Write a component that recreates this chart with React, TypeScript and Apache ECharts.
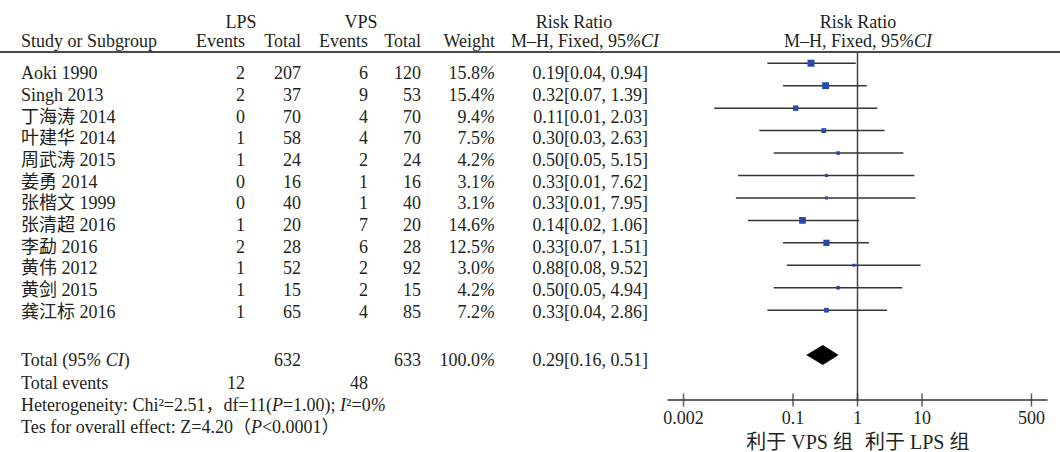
import React, { useEffect, useRef } from "react";
import * as echarts from "echarts";

// ---- data ----
const studies = ["Aoki 1990", "Singh 2013", "丁海涛 2014", "叶建华 2014", "周武涛 2015", "姜勇 2014", "张楷文 1999", "张清超 2016", "李勐 2016", "黄伟 2012", "黄剑 2015", "龚江标 2016"];
const lpsEvents = [2, 2, 0, 1, 1, 0, 0, 1, 2, 1, 1, 1];
const lpsTotal = [207, 37, 70, 58, 24, 16, 40, 20, 28, 52, 15, 65];
const vpsEvents = [6, 9, 4, 4, 2, 1, 1, 7, 6, 2, 2, 4];
const vpsTotal = [120, 53, 70, 70, 24, 16, 40, 20, 28, 92, 15, 85];
const weights = [15.8, 15.4, 9.4, 7.5, 4.2, 3.1, 3.1, 14.6, 12.5, 3.0, 4.2, 7.2];
const riskRatio = [0.19, 0.32, 0.11, 0.3, 0.5, 0.33, 0.33, 0.14, 0.33, 0.88, 0.5, 0.33];
const ciLow = [0.04, 0.07, 0.006, 0.03, 0.05, 0.014, 0.013, 0.02, 0.07, 0.08, 0.05, 0.04];
const ciHigh = [0.94, 1.39, 2.03, 2.63, 5.15, 7.62, 7.95, 1.06, 1.51, 9.52, 4.94, 2.86];
const totalLpsN = 632;
const totalVpsN = 633;
const totalLpsEvents = 12;
const totalVpsEvents = 48;
const totalWeight = 100.0;
const totalRR = 0.29;
const totalLow = 0.16;
const totalHigh = 0.51;
const tickValues = [0.002, 0.1, 1, 10, 500];
const tickLabels = ["0.002", "0.1", "1", "10", "500"];

const FONT = "'Liberation Serif','Times New Roman','Noto Sans CJK SC',serif";
const INK = "#231f20";

const ciText = (r: number, lo: number, hi: number) =>
  `${r.toFixed(2)}[${lo.toFixed(2)}, ${hi.toFixed(2)}]`;
const pct = (w: number) => `${w.toFixed(1)}{i|%}`;

const richStyles = {
  i: { fontStyle: "italic", fontSize: 18, fontFamily: FONT, fill: INK, color: INK },
};

function txt(text: string, x: number, y: number, align: string = "left", extra: any = {}) {
  return {
    type: "text",
    x,
    y,
    silent: true,
    style: {
      text,
      fill: INK,
      fontSize: 18,
      fontFamily: FONT,
      align,
      verticalAlign: "middle",
      textAlign: align,
      textVerticalAlign: "middle",
      rich: richStyles,
      ...extra,
    },
  };
}

export default function App() {
  const ref = useRef<HTMLDivElement>(null);
  useEffect(() => {
    if (!ref.current) return;
    const chart = echarts.init(ref.current, undefined, { renderer: "svg" });

    const rowY = (i: number) => 73.3 + i * 21.67;
    const graphics: any[] = [];
    // header
    graphics.push(txt("LPS", 241, 22, "center"));
    graphics.push(txt("VPS", 361, 22, "center"));
    graphics.push(txt("Risk Ratio", 574, 22, "center"));
    graphics.push(txt("Study or Subgroup", 21, 41));
    graphics.push(txt("Events", 245, 41, "right"));
    graphics.push(txt("Total", 301, 41, "right"));
    graphics.push(txt("Events", 368, 41, "right"));
    graphics.push(txt("Total", 421, 41, "right"));
    graphics.push(txt("Weight", 495, 41, "right"));
    graphics.push(txt("M–H, Fixed, 95{i|%CI}", 511, 41, "left"));
    graphics.push(txt("Risk Ratio", 858, 22, "center"));
    graphics.push(txt("M–H, Fixed, 95{i|%CI}", 858, 41, "center"));
    graphics.push({
      type: "line",
      silent: true,
      shape: { x1: 0, y1: 52, x2: 1060, y2: 52 },
      style: { stroke: "#4a4a4a", lineWidth: 2 },
    });
    // rows
    studies.forEach((s, i) => {
      const y = rowY(i);
      graphics.push(txt(s, 21, y));
      graphics.push(txt(String(lpsEvents[i]), 245, y, "right"));
      graphics.push(txt(String(lpsTotal[i]), 301, y, "right"));
      graphics.push(txt(String(vpsEvents[i]), 368, y, "right"));
      graphics.push(txt(String(vpsTotal[i]), 421, y, "right"));
      graphics.push(txt(pct(weights[i]), 495, y, "right"));
      graphics.push(txt(ciText(riskRatio[i], ciLow[i], ciHigh[i]), 648, y, "right"));
    });
    // totals
    graphics.push(txt("Total (95{i|% CI})", 21, 360));
    graphics.push(txt(String(totalLpsN), 301, 360, "right"));
    graphics.push(txt(String(totalVpsN), 421, 360, "right"));
    graphics.push(txt(pct(totalWeight), 495, 360, "right"));
    graphics.push(txt(ciText(totalRR, totalLow, totalHigh), 648, 360, "right"));
    graphics.push(txt("Total events", 21, 383));
    graphics.push(txt(String(totalLpsEvents), 245, 383, "right"));
    graphics.push(txt(String(totalVpsEvents), 368, 383, "right"));
    graphics.push(txt("Heterogeneity: Chi²=2.51，df=11({i|P}=1.00); {i|I}²=0{i|%}", 21, 405, "left"));
    graphics.push(txt("Tes for overall effect: Z=4.20（{i|P}<0.0001）", 21, 427, "left"));
    // axis captions
    graphics.push(txt("利于 VPS 组", 853, 441.5, "right", { fontSize: 20 }));
    graphics.push(txt("利于 LPS 组", 865, 441.5, "left", { fontSize: 20 }));

    const studyData = studies.map((_, i) => [i, riskRatio[i], ciLow[i], ciHigh[i], weights[i]]);

    chart.setOption({
      animation: false,
      grid: { left: 668, right: 13, top: 52, bottom: 52, containLabel: false },
      xAxis: {
        type: "log",
        logBase: 10,
        min: Math.pow(10, -2.94),
        max: Math.pow(10, 2.94),
        axisLine: { show: true, onZero: false, lineStyle: { color: "#333", width: 1.5 } },
        axisTick: { show: false },
        splitLine: { show: false },
        axisLabel: {
          customValues: tickValues,
          margin: 9,
          fontSize: 18,
          fontFamily: FONT,
          color: INK,
          formatter: (v: number) => {
            const idx = tickValues.findIndex((t) => Math.abs(Math.log10(t) - Math.log10(v)) < 1e-6);
            return idx >= 0 ? tickLabels[idx] : "";
          },
        },
      },
      yAxis: { type: "value", inverse: true, min: -0.5, max: 15, show: false },
      graphic: graphics,
      series: [
        {
          type: "line",
          data: [[1, -0.5], [1, 15]],
          symbol: "none",
          silent: true,
          lineStyle: { color: "#444", width: 1.5 },
          z: 1,
        },
        {
          type: "custom",
          silent: true,
          encode: { x: [1, 2, 3], y: 0 },
          data: studyData,
          z: 3,
          renderItem: (params: any, api: any) => {
            const y = api.value(0);
            const pLo = api.coord([api.value(2), y]);
            const pHi = api.coord([api.value(3), y]);
            const pR = api.coord([api.value(1), y]);
            const s = 7 * Math.sqrt(api.value(4) / 15.8);
            return {
              type: "group",
              children: [
                {
                  type: "line",
                  shape: { x1: pLo[0], y1: pLo[1], x2: pHi[0], y2: pHi[1] },
                  style: { stroke: "#353535", lineWidth: 1.5 },
                },
                {
                  type: "rect",
                  shape: { x: pR[0] - s / 2, y: pR[1] - s / 2, width: s, height: s },
                  style: { fill: "#2b48a8" },
                },
              ],
            };
          },
        },
        {
          type: "custom",
          silent: true,
          encode: { x: [1, 2, 3], y: 0 },
          data: [[13, totalRR, totalLow, totalHigh]],
          z: 3,
          renderItem: (params: any, api: any) => {
            const y = api.value(0);
            const pLo = api.coord([api.value(2), y]);
            const pHi = api.coord([api.value(3), y]);
            const pR = api.coord([api.value(1), y]);
            return {
              type: "polygon",
              shape: {
                points: [
                  [pLo[0], pLo[1]],
                  [pR[0], pR[1] - 10],
                  [pHi[0], pHi[1]],
                  [pR[0], pR[1] + 10],
                ],
              },
              style: { fill: "#000" },
            };
          },
        },
        {
          type: "scatter",
          silent: true,
          data: tickValues.map((v) => [v, 15]),
          symbol: "rect",
          symbolSize: [1.5, 13],
          itemStyle: { color: "#333" },
          z: 2,
          clip: false,
        },
      ],
    });
    return () => chart.dispose();
  }, []);

  return (
    <div
      ref={ref}
      style={{ position: "fixed", left: 0, top: 0, width: 1060, height: 452, background: "#fff" }}
    />
  );
}
